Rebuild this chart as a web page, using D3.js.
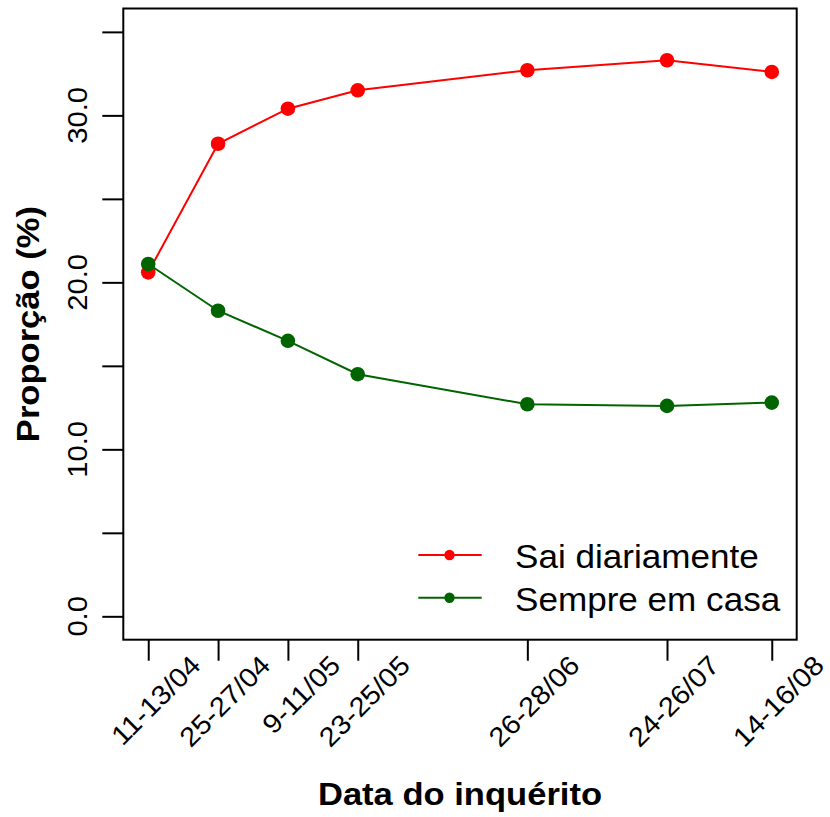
<!DOCTYPE html>
<html>
<head>
<meta charset="utf-8">
<script src="https://cdn.jsdelivr.net/npm/d3@7"></script>
<style>
  html, body { margin: 0; padding: 0; background: #fff; }
  svg { display: block; }
  text { font-family: "Liberation Sans", Arial, sans-serif; fill: #000; }
</style>
</head>
<body>
<svg id="chart" width="830" height="817"></svg>
<script>
// ---- data ----
const surveyDates = ["11-13/04", "25-27/04", "9-11/05", "23-25/05", "26-28/06", "24-26/07", "14-16/08"];
const surveyDay = [0, 14, 28, 42, 76, 104, 125];          // days since 12 April
const saiDiariamente = [20.6, 28.3, 30.4, 31.5, 32.7, 33.3, 32.6];
const sempreEmCasa = [21.1, 18.3, 16.5, 14.5, 12.7, 12.6, 12.8];
const yTickValues = [0, 5, 10, 15, 20, 25, 30, 35];
const yLabelValues = [0, 10, 20, 30];
const seriesNames = ["Sai diariamente", "Sempre em casa"];
const seriesColors = ["#ff0000", "#006400"];

// ---- layout ----
const svg = d3.select("#chart");
const x = d3.scaleLinear().domain([-5, 130]).range([123.3, 796.7]);
const y = d3.scaleLinear().domain([-1.4, 36.4]).range([639.7, 8.5]);

const tickStretch = 1.08, titleStretch = 1.08, tickFont = 27;

// y axis ticks
svg.append("g")
  .attr("transform", `translate(${x.range()[0]},0)`)
  .call(d3.axisLeft(y).tickValues(yTickValues).tickSize(21).tickFormat(""))
  .call(g => g.select(".domain").remove())
  .call(g => g.selectAll("line").attr("stroke", "#000").attr("stroke-width", 2));

svg.append("g").selectAll("text").data(yLabelValues).join("text")
  .attr("transform", d => `translate(87,${y(d)}) rotate(-90) scale(${tickStretch},1)`)
  .attr("text-anchor", "middle")
  .attr("font-size", tickFont)
  .text(d => d.toFixed(1));

// x axis ticks
svg.append("g")
  .attr("transform", `translate(0,${y.range()[0]})`)
  .call(d3.axisBottom(x).tickValues(surveyDay).tickSize(21).tickFormat(""))
  .call(g => g.select(".domain").remove())
  .call(g => g.selectAll("line").attr("stroke", "#000").attr("stroke-width", 2));

svg.append("g").selectAll("text").data(surveyDay).join("text")
  .attr("transform", d => `translate(${x(d) + 54},667) rotate(-45) scale(${tickStretch},1)`)
  .attr("text-anchor", "end")
  .attr("font-size", tickFont)
  .text((d, i) => surveyDates[i]);

// plot box
svg.append("rect")
  .attr("x", x.range()[0]).attr("y", y.range()[1])
  .attr("width", x.range()[1] - x.range()[0])
  .attr("height", y.range()[0] - y.range()[1])
  .attr("fill", "none").attr("stroke", "#000").attr("stroke-width", 2);

// axis titles
svg.append("text")
  .attr("transform", `translate(${(x.range()[0] + x.range()[1]) / 2},805) scale(${titleStretch},1)`)
  .attr("text-anchor", "middle")
  .attr("font-size", 32).attr("font-weight", "bold")
  .text("Data do inquérito");

svg.append("text")
  .attr("transform", `translate(38.5,${(y.range()[0] + y.range()[1]) / 2}) rotate(-90) scale(${titleStretch},1)`)
  .attr("text-anchor", "middle")
  .attr("font-size", 32).attr("font-weight", "bold")
  .text("Proporção (%)");

// series
const series = [saiDiariamente, sempreEmCasa];
const line = d3.line().x((d, i) => x(surveyDay[i])).y(d => y(d));
series.forEach((vals, si) => {
  const g = svg.append("g");
  g.append("path").datum(vals)
    .attr("d", line).attr("fill", "none")
    .attr("stroke", seriesColors[si]).attr("stroke-width", 2);
  g.selectAll("circle").data(vals).join("circle")
    .attr("cx", (d, i) => x(surveyDay[i])).attr("cy", d => y(d))
    .attr("r", 7.3).attr("fill", seriesColors[si]);
});

// legend
const legend = svg.append("g");
seriesNames.forEach((name, i) => {
  const ly = 555 + i * 42.7;
  legend.append("line").attr("x1", 418.3).attr("x2", 481.7).attr("y1", ly).attr("y2", ly)
    .attr("stroke", seriesColors[i]).attr("stroke-width", 2);
  legend.append("circle").attr("cx", 449.5).attr("cy", ly).attr("r", 5.2).attr("fill", seriesColors[i]);
  legend.append("text")
    .attr("transform", `translate(515,${ly + 13}) scale(${titleStretch},1)`)
    .attr("font-size", 32.5)
    .text(name);
});
</script>
</body>
</html>
